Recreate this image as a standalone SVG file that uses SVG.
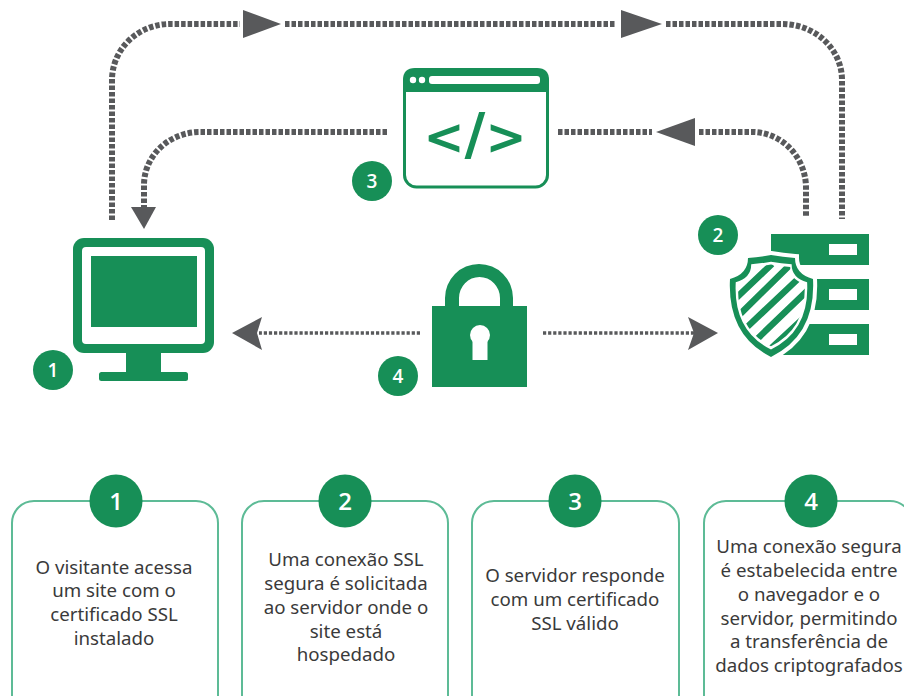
<svg xmlns="http://www.w3.org/2000/svg" width="904" height="696" viewBox="0 0 904 696">
<style>
.g{fill:#178f57}
.w{fill:#fff}
.thick{fill:none;stroke:#58595b;stroke-width:6;stroke-dasharray:4.5 2}
.thin{fill:none;stroke:#58595b;stroke-width:3.5;stroke-dasharray:3.2 1.9}
.head{fill:#58595b}
.card{fill:#fff;stroke:#5dbb96;stroke-width:2}
.num{font-family:"Open Sans","Noto Sans",sans-serif;fill:#fff;text-anchor:middle;font-weight:600}
.s{font-size:19px}
.b{font-size:24px}
.t{font-family:"Noto Sans","Open Sans",sans-serif;font-size:18.700px;fill:#3a3a3a;text-anchor:middle}
.stripe{stroke:#178f57;stroke-width:6.500;fill:none}
</style>
<defs>
<path id="shield" d="M748 258 Q760 257 771 255 Q783 257 795 258 Q795 274 813 279 Q816 335 771 357 Q727 335 730 279 Q748 274 748 258Z"/>
<clipPath id="shieldClip"><use href="#shield" transform="translate(771 303) scale(.8) translate(-771 -303)"/></clipPath>
</defs>
<rect width="904" height="696" fill="#fff"/>
<g id="connectors">
<path class="thick" d="M112 220V80A58 56 0 0 1 170 24H240"/>
<path class="thick" d="M285 24H616"/>
<path class="thick" d="M666 24H782A60 56 0 0 1 842 80V219"/>
<path class="thick" d="M387 132H200A56 53 0 0 0 144 185V207"/>
<path class="thick" d="M558 132H652"/>
<path class="thick" d="M699 132H752A54 56 0 0 1 806 188V216"/>
<path class="thin" d="M420 333H259"/>
<path class="thin" d="M543 333H694"/>
<polygon class="head" points="243,10 281,24 243,38"/>
<polygon class="head" points="621,10 662,24 621,38"/>
<polygon class="head" points="131,207 156,207 144,229"/>
<polygon class="head" points="695,118 695,146 656,132"/>
<polygon class="head" points="232,333 262,317 257,333 262,350"/>
<polygon class="head" points="718,333 688,317 694,333 688,350"/>
</g>
<g id="node-computer">
<rect class="g" x="73" y="238" width="141" height="115" rx="11"/>
<rect class="w" x="82" y="247" width="123" height="97" rx="4"/>
<rect class="g" x="91" y="256" width="106" height="71"/>
<rect class="g" x="126" y="350" width="35" height="24"/>
<rect class="g" x="99" y="372" width="89" height="9" rx="2.500"/>
<circle class="g" cx="53" cy="370" r="20"/><text class="num s" x="53" y="377">1</text>
</g>
<g id="node-server">
<rect class="g" x="771" y="234" width="98" height="31"/>
<rect class="g" x="771" y="279" width="98" height="31"/>
<rect class="g" x="771" y="324" width="98" height="31"/>
<rect class="w" x="829" y="244" width="28" height="11"/>
<rect class="w" x="829" y="289" width="28" height="11"/>
<rect class="w" x="829" y="334" width="28" height="11"/>
<use href="#shield" fill="#fff" stroke="#fff" stroke-width="8"/>
<use href="#shield" class="g"/>
<use href="#shield" class="w" transform="translate(771 303) scale(.86) translate(-771 -303)"/>
<g clip-path="url(#shieldClip)">
<path class="stripe" d="M732 302L772 264M734 320L790 265M744 330L800 277M752 344L808 290M765 354L805 317"/>
</g>
<circle class="g" cx="718" cy="235" r="20"/><text class="num s" x="718" y="242">2</text>
</g>
<g id="node-browser">
<rect x="404.500" y="70" width="143" height="117" rx="12" fill="#fff" stroke="#178f57" stroke-width="3"/>
<path class="g" d="M415 68H537Q549 68 549 80V92H403V80Q403 68 415 68Z"/>
<circle class="w" cx="413" cy="80" r="3.200"/>
<circle class="w" cx="422" cy="80" r="3.200"/>
<rect class="w" x="429" y="76" width="111" height="8" rx="3"/>
<text x="475" y="154" font-family="'DejaVu Sans',sans-serif" font-size="49" font-weight="700" text-anchor="middle" fill="#178f57">&lt;<tspan font-size="57">/</tspan>&gt;</text>
<circle class="g" cx="372" cy="181" r="20"/><text class="num s" x="372" y="188">3</text>
</g>
<g id="node-lock">
<path class="g" d="M445 306V298A34 34 0 0 1 513 298V306H500V298A20.500 21 0 0 0 459 298V306Z"/>
<rect class="g" x="432" y="306" width="95" height="81"/>
<circle class="w" cx="480" cy="335" r="10"/>
<rect class="w" x="472.500" y="338" width="15" height="22"/>
<circle class="g" cx="398" cy="376" r="20"/><text class="num s" x="398" y="383">4</text>
</g>
<g id="card-1">
<rect class="card" x="12" y="501" width="206" height="220" rx="22"/>
<circle class="g" cx="116" cy="501" r="26.500"/><text class="num b" x="116" y="510">1</text>
<text class="t" x="114" y="574">O visitante acessa</text>
<text class="t" x="114" y="597">um site com o</text>
<text class="t" x="114" y="621">certificado SSL</text>
<text class="t" x="114" y="645">instalado</text>
</g>
<g id="card-2">
<rect class="card" x="242" y="501" width="206" height="220" rx="22"/>
<circle class="g" cx="345" cy="501" r="26.500"/><text class="num b" x="345" y="510">2</text>
<text class="t" x="346" y="566">Uma conexão SSL</text>
<text class="t" x="346" y="590">segura é solicitada</text>
<text class="t" x="346" y="614">ao servidor onde o</text>
<text class="t" x="346" y="638">site está</text>
<text class="t" x="346" y="661">hospedado</text>
</g>
<g id="card-3">
<rect class="card" x="472" y="501" width="207" height="220" rx="22"/>
<circle class="g" cx="575" cy="501" r="26.500"/><text class="num b" x="575" y="510">3</text>
<text class="t" x="575" y="582">O servidor responde</text>
<text class="t" x="575" y="606">com um certificado</text>
<text class="t" x="575" y="630">SSL válido</text>
</g>
<g id="card-4">
<rect class="card" x="704" y="501" width="208" height="220" rx="22"/>
<circle class="g" cx="811" cy="501" r="26.500"/><text class="num b" x="811" y="510">4</text>
<text class="t" x="809" y="553">Uma conexão segura</text>
<text class="t" x="809" y="577">é estabelecida entre</text>
<text class="t" x="809" y="601">o navegador e o</text>
<text class="t" x="809" y="625">servidor, permitindo</text>
<text class="t" x="809" y="648">a transferência de</text>
<text class="t" x="809" y="672">dados criptografados</text>
</g>
</svg>
